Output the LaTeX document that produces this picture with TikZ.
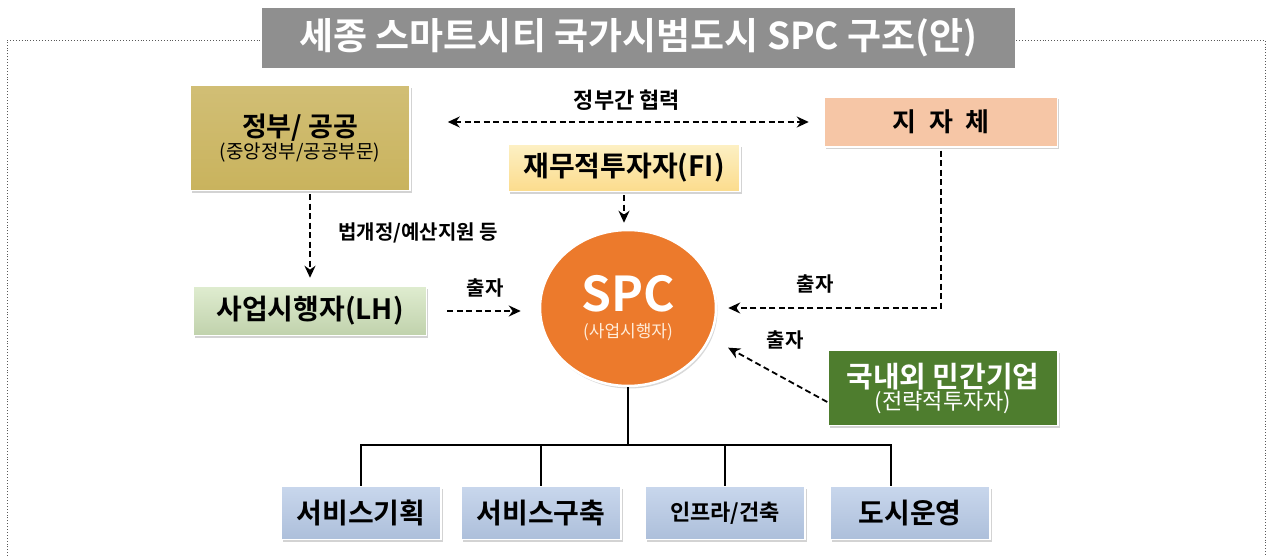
\documentclass[tikz,border=0pt]{standalone}
\usepackage{fontspec}
\setmainfont{Noto Sans CJK KR}[BoldFont=* Bold]
\usetikzlibrary{positioning,arrows.meta,shadows,shapes.geometric}
\definecolor{titlegray}{HTML}{8F8F8F}
\definecolor{govgold}{HTML}{C9B35D}
\definecolor{localpeach}{HTML}{F6C6A6}
\definecolor{fiyellow}{HTML}{FBE69C}
\definecolor{lhgreen}{HTML}{D1E4BB}
\definecolor{spcorange}{HTML}{EC7A2C}
\definecolor{sigreen}{HTML}{4E7D2E}
\definecolor{svcblue}{HTML}{B6C9E6}
\newcommand\fsz[2]{\fontsize{#1}{#2}\selectfont}
\tikzset{%
  box/.style = {rectangle,draw=white,line width=1.5pt,inner sep=0pt,
        align=center,font=\bfseries,
        drop shadow={shadow xshift=1.5pt,shadow yshift=-2.5pt,opacity=.35}},
  dasharrow/.style = {-{Stealth[length=12pt,width=11pt]},line width=1.8pt,
        dash pattern=on 6pt off 3.5pt},
  twoarrow/.style = {dasharrow,{Stealth[length=12pt,width=11pt]}-{Stealth[length=12pt,width=11pt]}},
  treeline/.style = {line width=1.6pt},
  lbl/.style = {font=\bfseries\fsz{20}{22}},
  svcbox/.style = {box,top color=svcblue!75!white,bottom color=svcblue!95!black,
        minimum width=160pt,minimum height=53pt,font=\bfseries\fsz{28}{30}}
}
\begin{document}
\begin{tikzpicture}[x=1pt,y=-1pt]
   \useasboundingbox (0,0) rectangle (1270,556);

   % frame and title
   \draw[black!65,dotted,line width=0.9pt] (7,556) -- (7,40) -- (1265,40) -- (1265,556);
   \node[fill=titlegray,text=white,minimum width=753pt,minimum height=60pt,
         font=\bfseries\fsz{37}{40}] (title) at (638.5,38) {세종 스마트시티 국가시범도시 SPC 구조(안)};

   \node[box,top color=govgold!85!white,bottom color=govgold,
         minimum width=220pt,minimum height=105pt,font=\bfseries\fsz{27}{29}] (gov) at (300,138)
         {정부/ 공공\\[-7pt]{\mdseries\fsz{19}{21}(중앙정부/공공부문)}};
   \node[box,fill=localpeach,minimum width=233pt,minimum height=50pt,
         font=\bfseries\fsz{26}{28}] (local) at (941,122) {{\spaceskip=0.5em 지 자 체}};
   \node[box,top color=fiyellow!60!white,bottom color=fiyellow!90!orange,
         minimum width=232pt,minimum height=47pt,font=\bfseries\fsz{28}{30}] (fi) at (624,168) {재무적투자자(FI)};
   \node[box,top color=lhgreen!70!white,bottom color=lhgreen!92!black,
         minimum width=233pt,minimum height=49pt,font=\bfseries\fsz{28}{30}] (lh) at (310,311) {사업시행자(LH)};

   \node[ellipse,draw=white,line width=2.5pt,fill=spcorange,text=white,inner sep=0pt,
         minimum width=176pt,minimum height=156pt,align=center,font=\bfseries\fsz{48}{50},
         drop shadow={shadow xshift=1.5pt,shadow yshift=-2.5pt,opacity=.3}] (spc) at (628,308)
         {SPC\\[-24pt]{\mdseries\fsz{17}{19}\color{white!85!orange}(사업시행자)}};

   \node[box,fill=sigreen,text=white,minimum width=230pt,minimum height=75pt,
         font=\bfseries\fsz{29}{31}] (private) at (943,388)
         {국내외 민간기업\\[-9pt]{\mdseries\fsz{22}{24}(전략적투자자)}};

   \node[svcbox] (svcplan) at (361,513) {서비스기획};
   \node[svcbox] (svcbuild) at (541,513) {서비스구축};
   \node[svcbox,font=\bfseries\fsz{22}{24}] (infra) at (725,513) {인프라/건축};
   \node[svcbox] (cityops) at (910,513) {도시운영};

   % labels
   \node[lbl,font=\bfseries\fsz{22}{24}] (lbl-coop) at (627,100) {정부간 협력};
   \node[lbl] (lbl-law) at (418,233) {법개정/예산지원 등};
   \node[lbl] (lbl-lh) at (485,288) {출자};
   \node[lbl] (lbl-local) at (815,284) {출자};
   \node[lbl] (lbl-private) at (785,340) {출자};

   \draw[twoarrow] (gov.east |- local.west) -- (local.west)
        [shorten <=37pt,shorten >=15pt];
   \draw[dasharrow,shorten <=3pt,shorten >=6pt] (fi.south) -- (fi.south |- spc.north);
   \draw[dasharrow,shorten <=3pt,shorten >=8pt] (lh.north |- gov.south) -- (lh.north);
   \draw[dasharrow,shorten <=20pt,shorten >=18pt] (lh.east) -- (spc.west |- lh.east);
   \draw[dasharrow,shorten <=3pt,shorten >=11pt] (local.south) |- (spc.east);
   \draw[dasharrow,shorten >=20pt] ([yshift=-14pt]private.west) -- (spc.-20);

   \coordinate (bus) at (628,445);
   \draw[treeline] (spc.south) -- (bus);
   \draw[treeline] (svcplan.north) |- (bus);
   \draw[treeline] (svcbuild.north) |- (bus);
   \draw[treeline] (infra.north) |- (bus);
   \draw[treeline] ([xshift=-19pt]cityops.north) |- (bus);
\end{tikzpicture}
\end{document}
